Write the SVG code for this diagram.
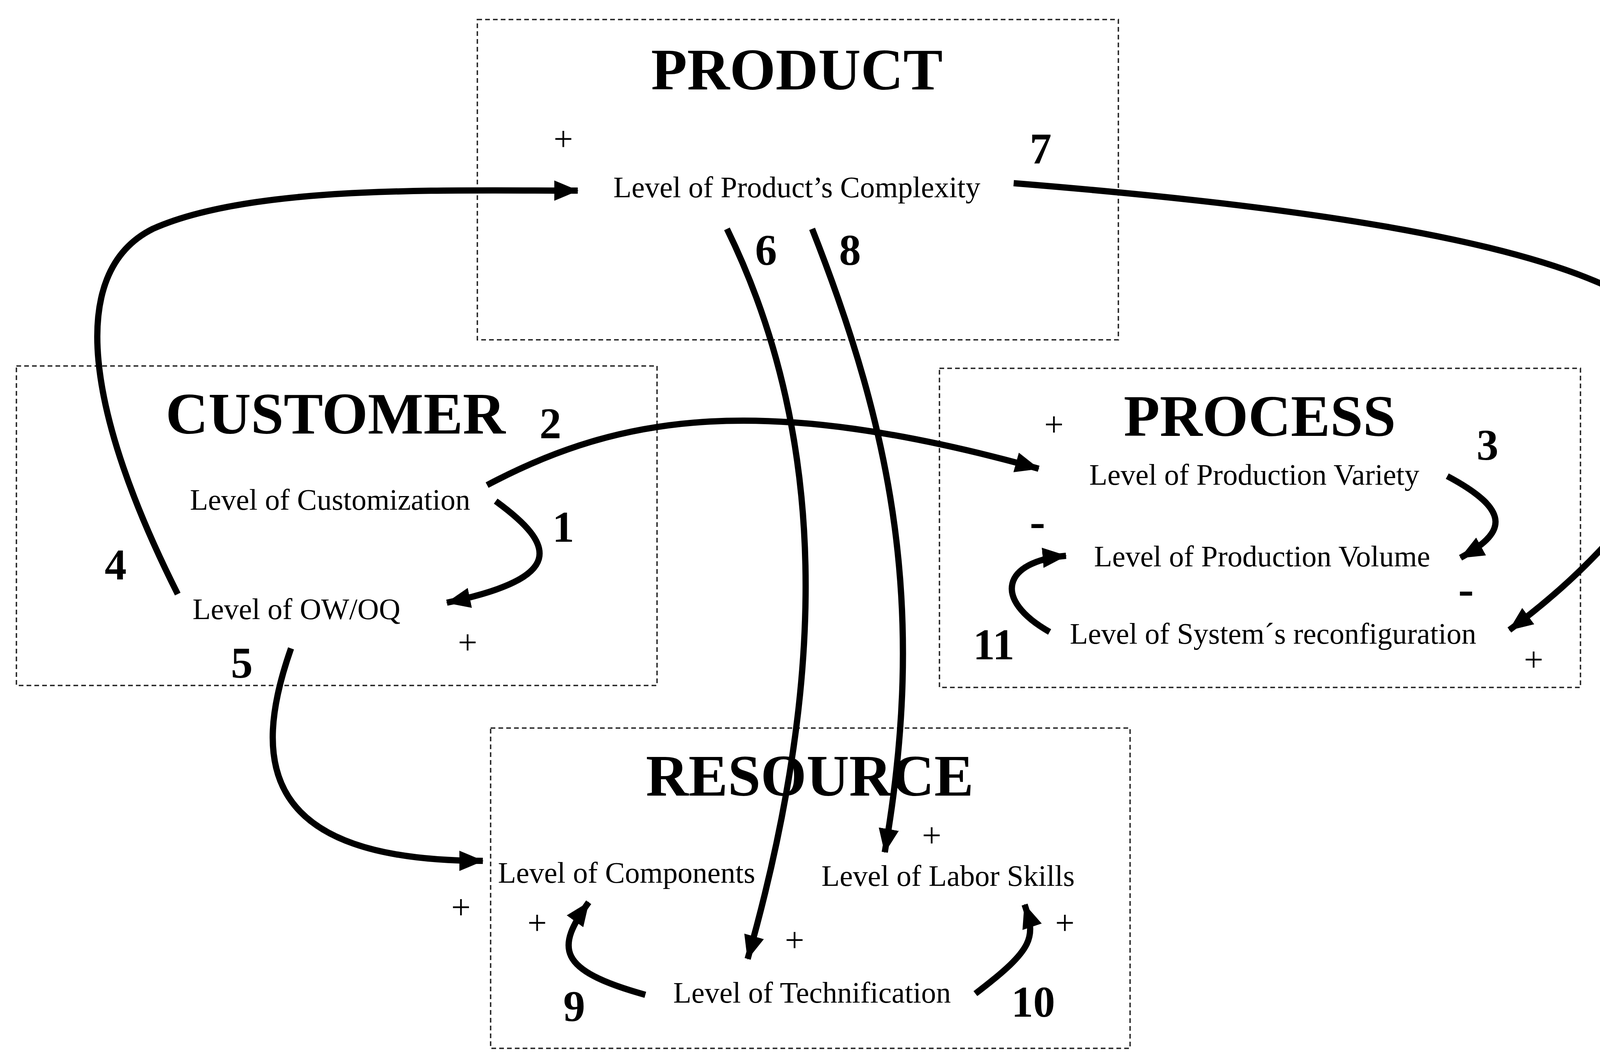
<svg xmlns="http://www.w3.org/2000/svg" width="4347" height="2719" viewBox="0 0 4347 2719">
<style>
.box{fill:none;stroke:#222;stroke-width:3.5;stroke-dasharray:12 8}
.t{font-family:"Liberation Serif",serif;font-weight:bold;font-size:151px;text-anchor:middle;fill:#000}
.l{font-family:"Liberation Serif",serif;font-size:76px;text-anchor:middle;fill:#000}
.n{font-family:"Liberation Serif",serif;font-weight:bold;font-size:112px;text-anchor:middle;fill:#000}
.s{font-family:"Liberation Serif",serif;font-size:88px;text-anchor:middle;fill:#000}
.m{font-family:"Liberation Serif",serif;font-weight:bold;font-size:120px;text-anchor:middle;fill:#000}
.a{fill:none;stroke:#000;stroke-width:16;marker-end:url(#ah)}
</style>
<defs><marker id="ah" markerUnits="userSpaceOnUse" markerWidth="64" markerHeight="54" refX="60" refY="26" orient="auto"><path d="M0,0 L62,26 L0,52 z" fill="#000"/></marker></defs>
<rect width="4347" height="2719" fill="#fff"/>
<g id="product"><rect class="box" x="1222" y="50" width="1641" height="820"/><text class="t" x="2040" y="229">PRODUCT</text><text class="l" x="2040" y="505">Level of Product’s Complexity</text></g>
<g id="customer"><rect class="box" x="42" y="937" width="1640" height="818"/><text class="t" x="859" y="1110">CUSTOMER</text><text class="l" x="845" y="1305">Level of Customization</text><text class="l" x="759" y="1585">Level of OW/OQ</text></g>
<g id="process"><rect class="box" x="2405" y="943" width="1641" height="817"/><text class="t" x="3225" y="1116">PROCESS</text><text class="l" x="3211" y="1241">Level of Production Variety</text><text class="l" x="3231" y="1450">Level of Production Volume</text><text class="l" x="3259" y="1648">Level of System´s reconfiguration</text></g>
<g id="resource"><rect class="box" x="1256" y="1864" width="1637" height="820"/><text class="t" x="2073" y="2037">RESOURCE</text><text class="l" x="1604" y="2260">Level of Components</text><text class="l" x="2427" y="2268">Level of Labor Skills</text><text class="l" x="2079" y="2567">Level of Technification</text></g>
<g id="connectors">
<path class="a" d="M455,1521 C223,1060 167,698 391,586 C642,474 1116,488 1479,488"/>
<path class="a" d="M2595,469 C3348,530 4269,642 4311,921 C4353,1200 4046,1479 3864,1613"/>
<path class="a" d="M1861,586 C2120,1116 2120,1730 1914,2455"/>
<path class="a" d="M2079,586 C2288,1116 2372,1562 2265,2182"/>
<path class="a" d="M1247,1242 C1590,1060 1953,1004 2659,1200"/>
<path class="a" d="M1269,1283 C1423,1395 1451,1479 1144,1543"/>
<path class="a" d="M3705,1219 C3878,1311 3850,1367 3739,1428"/>
<path class="a" d="M2687,1618 C2539,1534 2567,1437 2729,1423"/>
<path class="a" d="M745,1660 C642,1953 670,2204 1236,2204"/>
<path class="a" d="M1652,2547 C1423,2483 1423,2427 1507,2310"/>
<path class="a" d="M2497,2544 C2651,2427 2651,2399 2623,2316"/>
</g>
<g id="labels">
<text class="n" x="2664" y="418">7</text><text class="n" x="1961" y="678">6</text><text class="n" x="2176" y="678">8</text>
<text class="n" x="1409" y="1122">2</text><text class="n" x="1442" y="1387">1</text><text class="n" x="3808" y="1177">3</text>
<text class="n" x="296" y="1484">4</text><text class="n" x="619" y="1735">5</text><text class="n" x="2544" y="1688">11</text>
<text class="n" x="1470" y="2614">9</text><text class="n" x="2645" y="2603">10</text>
<text class="s" x="1442" y="385">+</text><text class="s" x="2698" y="1116">+</text><text class="m" x="2656" y="1375">-</text>
<text class="s" x="1197" y="1674">+</text><text class="m" x="3753" y="1548">-</text><text class="s" x="3926" y="1718">+</text>
<text class="s" x="2385" y="2168">+</text><text class="s" x="1180" y="2352">+</text><text class="s" x="1375" y="2392">+</text>
<text class="s" x="2034" y="2436">+</text><text class="s" x="2726" y="2392">+</text>
</g>
</svg>
